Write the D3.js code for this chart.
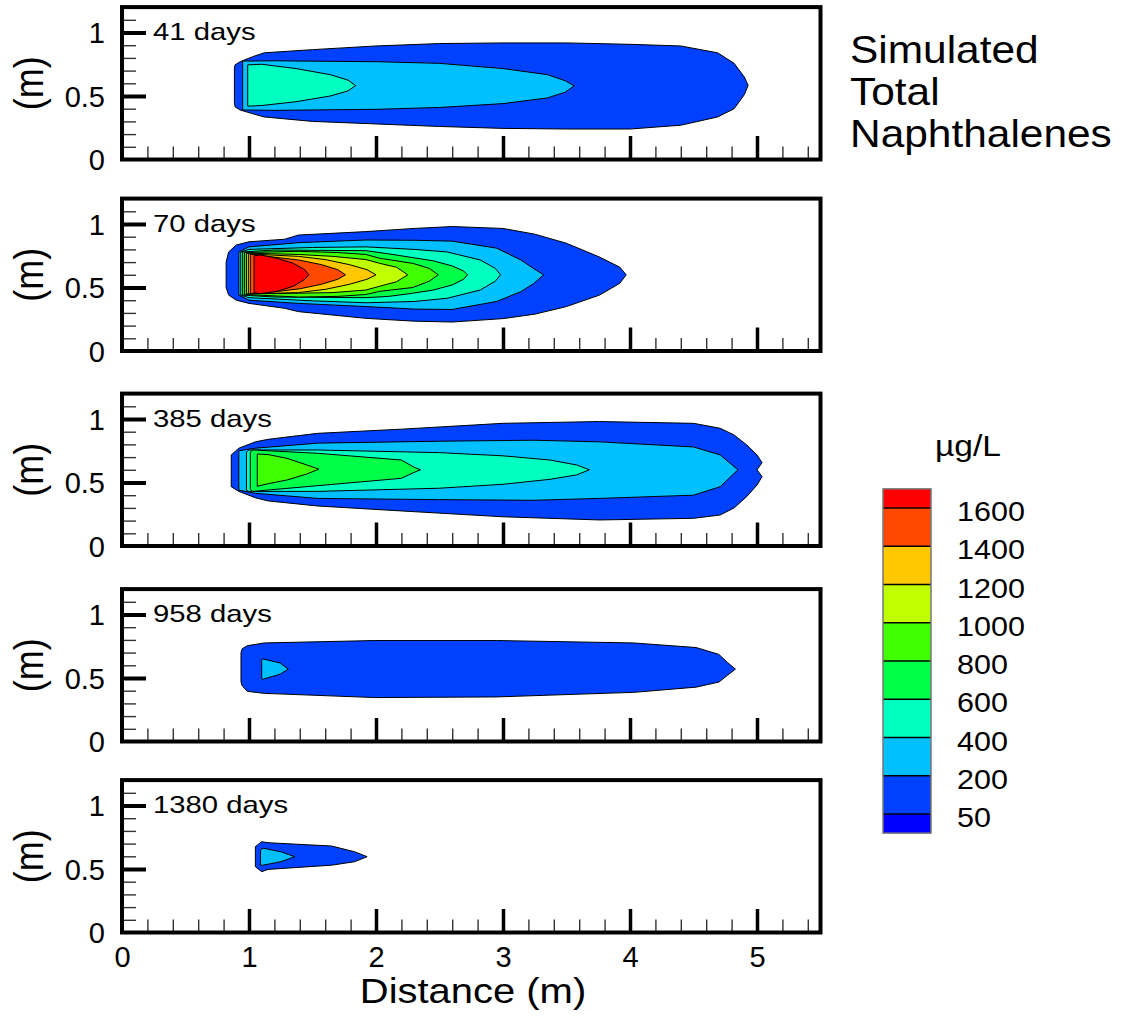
<!DOCTYPE html>
<html><head><meta charset="utf-8">
<script src="https://cdn.jsdelivr.net/npm/d3@7"></script>
<style>
body{margin:0;background:#fff}
text{font-family:"Liberation Sans",Arial,Helvetica,sans-serif;fill:#000}
</style>
</head><body>
<svg id="chart" width="1133" height="1017"></svg>
<script>
// ---------------- data ----------------
const panelLabels = ["41 days", "70 days", "385 days", "958 days", "1380 days"];
const levels = [50, 200, 400, 600, 800, 1000, 1200, 1400, 1600];
const levelColors = ["#0040FF", "#00C0FF", "#00FFC0", "#00FF48", "#40FF00", "#C0FF00", "#FFC800", "#FF4800", "#FF0000"];
const belowColor = "#0000FF";
const xTickValues = [0, 1, 2, 3, 4, 5];
const yTickValues = [0, 0.5, 1];
const titleLines = ["Simulated", "Total", "Naphthalenes"];
const unitLabel = "\u00B5g/L";

// contour outlines: [level, [[x, yTop, yBottom], ...]] (metres)
const plume41 = [
  [50, [[0.885,0.72,0.45],[0.89,0.745,0.415],[0.93,0.77,0.39],[1.03,0.81,0.36],[1.12,0.84,0.335],[1.5,0.865,0.30],[2.0,0.894,0.28],[2.5,0.913,0.26],[3.0,0.918,0.245],[3.5,0.918,0.24],[4.0,0.907,0.24],[4.4,0.894,0.27],[4.69,0.84,0.335],[4.82,0.757,0.40],[4.9,0.65,0.51],[4.93,0.585,0.585]]],
  [200, [[0.95,0.775,0.39],[1.2,0.777,0.387],[2.0,0.77,0.395],[2.5,0.757,0.41],[3.0,0.716,0.44],[3.35,0.668,0.485],[3.49,0.62,0.53],[3.56,0.58,0.58]]],
  [400, [[0.99,0.745,0.42],[1.1,0.75,0.425],[1.37,0.716,0.455],[1.64,0.668,0.50],[1.78,0.625,0.54],[1.84,0.582,0.582]]]
];
const plume70 = [
  [50, [[0.82,0.70,0.50],[0.84,0.78,0.44],[0.90,0.835,0.40],[1.0,0.86,0.375],[1.28,0.88,0.336],[1.39,0.913,0.31],[1.92,0.94,0.257],[2.3,0.965,0.235],[2.6,0.98,0.228],[3.0,0.965,0.255],[3.25,0.92,0.29],[3.5,0.848,0.35],[3.76,0.74,0.44],[3.92,0.66,0.533],[3.97,0.60,0.60]]],
  [200, [[0.92,0.78,0.44],[1.0,0.82,0.40],[1.39,0.853,0.375],[1.92,0.874,0.35],[2.3,0.872,0.33],[2.6,0.865,0.327],[2.95,0.81,0.39],[3.14,0.717,0.467],[3.24,0.65,0.53],[3.32,0.60,0.60]]],
  [400, [[0.935,0.78,0.44],[1.0,0.80,0.42],[1.5,0.815,0.395],[1.92,0.82,0.38],[2.3,0.80,0.39],[2.56,0.78,0.415],[2.82,0.717,0.48],[2.94,0.65,0.55],[2.98,0.60,0.60]]],
  [600, [[0.95,0.78,0.44],[1.2,0.795,0.425],[1.92,0.79,0.42],[2.1,0.765,0.43],[2.29,0.735,0.455],[2.45,0.71,0.48],[2.6,0.67,0.52],[2.69,0.63,0.565],[2.72,0.60,0.60]]],
  [800, [[0.965,0.775,0.445],[1.39,0.785,0.425],[1.7,0.775,0.43],[1.92,0.76,0.445],[2.03,0.73,0.47],[2.29,0.69,0.50],[2.42,0.65,0.55],[2.49,0.60,0.60]]],
  [1000, [[0.98,0.77,0.45],[1.39,0.76,0.455],[1.66,0.745,0.46],[1.92,0.72,0.48],[2.03,0.69,0.51],[2.16,0.66,0.545],[2.25,0.60,0.60]]],
  [1200, [[0.995,0.765,0.45],[1.39,0.745,0.46],[1.6,0.72,0.485],[1.79,0.68,0.525],[1.93,0.64,0.565],[2.0,0.60,0.60]]],
  [1400, [[1.01,0.762,0.452],[1.15,0.745,0.46],[1.4,0.715,0.49],[1.57,0.68,0.525],[1.7,0.64,0.565],[1.76,0.60,0.60]]],
  [1600, [[1.04,0.75,0.46],[1.09,0.756,0.452],[1.22,0.73,0.47],[1.35,0.69,0.51],[1.44,0.64,0.565],[1.47,0.60,0.60]]]
];
const plume385 = [
  [50, [[0.86,0.717,0.467],[0.92,0.77,0.43],[1.05,0.82,0.38],[1.15,0.84,0.355],[1.54,0.887,0.315],[2.2,0.92,0.276],[3.0,0.966,0.23],[3.76,0.98,0.205],[4.5,0.966,0.218],[4.71,0.927,0.244],[4.82,0.874,0.30],[4.92,0.795,0.39],[5.0,0.717,0.48],[5.04,0.656,0.546],[5.0,0.60,0.60]]],
  [200, [[0.92,0.75,0.44],[1.05,0.77,0.415],[1.54,0.81,0.375],[2.5,0.825,0.365],[3.24,0.833,0.36],[3.76,0.82,0.375],[4.5,0.78,0.40],[4.71,0.717,0.467],[4.85,0.60,0.60]]],
  [400, [[0.98,0.74,0.44],[1.0,0.756,0.43],[1.54,0.756,0.43],[2.5,0.735,0.455],[3.0,0.71,0.486],[3.37,0.677,0.525],[3.58,0.638,0.56],[3.68,0.60,0.60]]],
  [600, [[1.01,0.74,0.445],[1.03,0.756,0.43],[1.54,0.73,0.475],[2.2,0.677,0.533],[2.3,0.62,0.58],[2.35,0.60,0.60]]],
  [800, [[1.065,0.724,0.47],[1.15,0.72,0.49],[1.3,0.69,0.52],[1.45,0.64,0.565],[1.55,0.605,0.605]]]
];
const plume958 = [
  [50, [[0.937,0.70,0.47],[0.946,0.73,0.44],[0.986,0.754,0.395],[1.12,0.776,0.379],[1.99,0.795,0.346],[2.95,0.795,0.351],[4.03,0.776,0.387],[4.52,0.74,0.428],[4.70,0.686,0.468],[4.77,0.62,0.523],[4.83,0.57,0.57]]],
  [200, [[1.10,0.645,0.495],[1.11,0.65,0.49],[1.245,0.618,0.53],[1.31,0.57,0.57]]]
];
const plume1380 = [
  [50, [[1.05,0.676,0.518],[1.10,0.715,0.479],[1.15,0.707,0.497],[1.65,0.681,0.53],[1.83,0.636,0.557],[1.93,0.597,0.597]]],
  [200, [[1.09,0.65,0.53],[1.11,0.664,0.53],[1.25,0.636,0.557],[1.36,0.597,0.597]]]
];
const plumes = [plume41, plume70, plume385, plume958, plume1380];

// ---------------- layout ----------------
const svg = d3.select("#chart");
const panelBottoms = [159.5, 351, 546, 741.5, 932.5];
const pxPerM = 127;
const x = d3.scaleLinear().domain([0, 5.5]).range([122, 122 + 5.5 * pxPerM]);

function stretchedText(parent, tx, ty, str, size, anchor, k) {
  return parent.append("text")
    .attr("transform", `translate(${tx},${ty}) scale(${k},1)`)
    .attr("text-anchor", anchor)
    .attr("font-size", size)
    .text(str);
}

const line = d3.line();

plumes.forEach((plume, i) => {
  const y0 = panelBottoms[i];
  const y = d3.scaleLinear().domain([0, 1.2]).range([y0, y0 - 1.2 * pxPerM]);
  const g = svg.append("g");

  // contour fills
  plume.forEach(([lev, pts]) => {
    const poly = pts.map(p => [x(p[0]), y(p[1])])
      .concat(pts.slice().reverse().map(p => [x(p[0]), y(p[2])]));
    g.append("path")
      .attr("d", line(poly) + "Z")
      .attr("fill", levelColors[levels.indexOf(lev)])
      .attr("stroke", "#000")
      .attr("stroke-width", 1)
      .attr("stroke-linejoin", "round");
  });

  // minor x ticks
  const xMinor = d3.range(1, 28).map(k => +(k * 0.2).toFixed(1)).filter(v => Math.abs(v - Math.round(v)) > 1e-6);
  const axMinX = g.append("g").attr("transform", `translate(0,${y0})`)
    .call(d3.axisBottom(x).tickValues(xMinor).tickSize(-13).tickFormat(""));
  axMinX.select(".domain").remove();
  axMinX.selectAll("line").attr("stroke", "#333").attr("stroke-width", 1.4);
  // major x ticks
  const axMajX = g.append("g").attr("transform", `translate(0,${y0})`)
    .call(d3.axisBottom(x).tickValues([1, 2, 3, 4, 5]).tickSize(-23.5).tickFormat(""));
  axMajX.select(".domain").remove();
  axMajX.selectAll("line").attr("stroke", "#000").attr("stroke-width", 3.5);

  // minor y ticks
  const yMinor = d3.range(1, 12).map(k => +(k * 0.1).toFixed(1)).filter(v => v !== 0.5 && v !== 1);
  const axMinY = g.append("g").attr("transform", `translate(${x(0)},0)`)
    .call(d3.axisLeft(y).tickValues(yMinor).tickSize(-14).tickFormat(""));
  axMinY.select(".domain").remove();
  axMinY.selectAll("line").attr("stroke", "#333").attr("stroke-width", 1.4);
  const axMajY = g.append("g").attr("transform", `translate(${x(0)},0)`)
    .call(d3.axisLeft(y).tickValues([0.5, 1]).tickSize(-24).tickFormat(""));
  axMajY.select(".domain").remove();
  axMajY.selectAll("line").attr("stroke", "#000").attr("stroke-width", 4);

  // y tick labels
  const axLab = g.append("g").attr("transform", `translate(${x(0)},1)`)
    .call(d3.axisLeft(y).tickValues(yTickValues).tickSize(0).tickPadding(17).tickFormat(d => String(d)));
  axLab.select(".domain").remove();
  axLab.selectAll("text").attr("font-size", 29).attr("fill", "#000")
    .attr("font-family", '"Liberation Sans",Arial,sans-serif');

  // frame
  g.append("rect")
    .attr("x", x(0)).attr("y", y(1.2))
    .attr("width", x(5.5) - x(0)).attr("height", y(0) - y(1.2))
    .attr("fill", "none").attr("stroke", "#000").attr("stroke-width", 4);

  // panel label
  stretchedText(g, 153, y(1.2) + 33, panelLabels[i], 24, "start", 1.22);

  // (m) label
  g.append("text")
    .attr("transform", `translate(43,${(y(0) + y(1.2)) / 2}) scale(1.15,1) rotate(-90)`)
    .attr("text-anchor", "middle").attr("font-size", 36).text("(m)");

  // x tick labels on bottom panel
  if (i === plumes.length - 1) {
    const axX = g.append("g").attr("transform", `translate(0,${y0})`)
      .call(d3.axisBottom(x).tickValues(xTickValues).tickSize(0).tickPadding(13.5).tickFormat(d => String(d)));
    axX.select(".domain").remove();
    axX.selectAll("text").attr("font-size", 29).attr("fill", "#000")
      .attr("font-family", '"Liberation Sans",Arial,sans-serif');
  }
});

// x axis title
stretchedText(svg, 473, 1003, "Distance (m)", 36, "middle", 1.11);

// chart title
titleLines.forEach((t, i) => stretchedText(svg, 850, 63 + i * 42, t, 38, "start", 1.117));

// ---------------- legend ----------------
const legX0 = 883, legW = 48;
const ly = d3.scaleLinear().domain([0, levels.length - 1]).range([814, 508]);
const leg = svg.append("g");
leg.append("rect").attr("x", legX0).attr("y", ly(0)).attr("width", legW)
  .attr("height", ly(-0.5) - ly(0)).attr("fill", belowColor);
levels.forEach((lev, k) => {
  const top = k === levels.length - 1 ? k + 0.5 : k + 1;
  leg.append("rect").attr("x", legX0).attr("y", ly(top)).attr("width", legW)
    .attr("height", ly(k) - ly(top)).attr("fill", levelColors[k]);
});
levels.forEach((lev, k) => {
  leg.append("line").attr("x1", legX0).attr("x2", legX0 + legW)
    .attr("y1", ly(k)).attr("y2", ly(k)).attr("stroke", "#000").attr("stroke-width", 1.3);
  stretchedText(leg, 957, ly(k) + 13, String(lev), 28, "start", 1.09);
});
leg.append("rect").attr("x", legX0).attr("y", ly(levels.length - 0.5)).attr("width", legW)
  .attr("height", ly(-0.5) - ly(levels.length - 0.5))
  .attr("fill", "none").attr("stroke", "#777").attr("stroke-width", 1.5);
stretchedText(leg, 968, 456, unitLabel, 30, "middle", 1.12);
</script>
</body></html>
